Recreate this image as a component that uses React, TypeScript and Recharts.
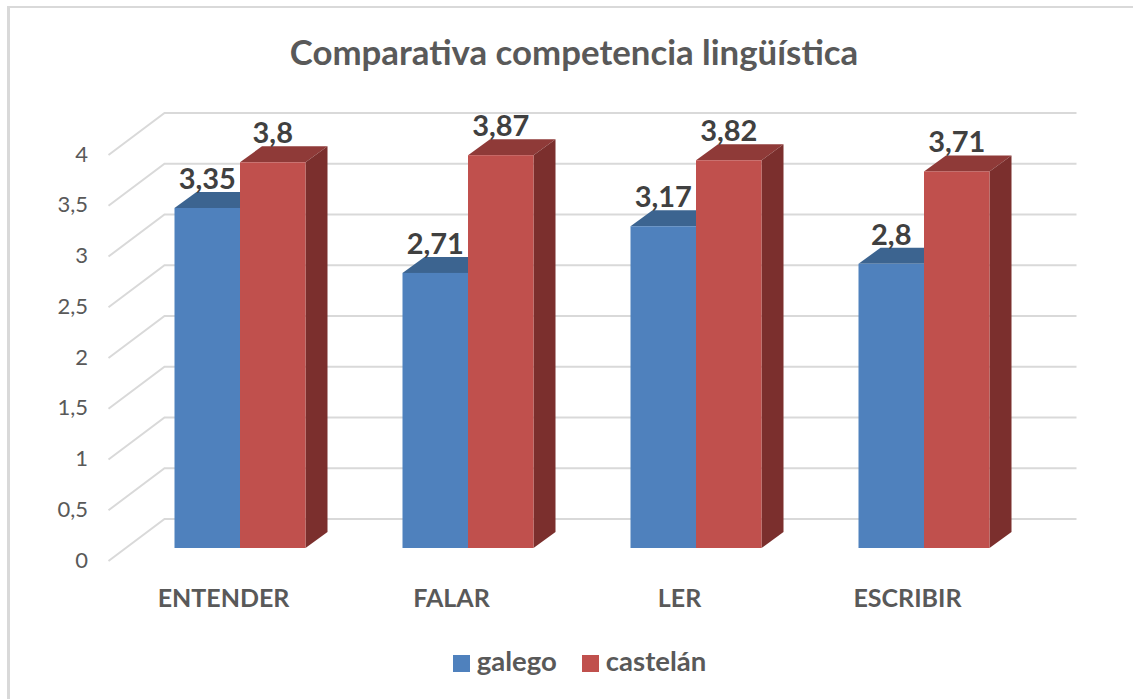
import React from 'react'
import { Bar, BarChart, CartesianGrid, LabelList, Legend, XAxis, YAxis } from 'recharts'

const categories = ['ENTENDER', 'FALAR', 'LER', 'ESCRIBIR']
const galego = [3.35, 2.71, 3.17, 2.8]
const castelan = [3.8, 3.87, 3.82, 3.71]
const yTicks = [0, 0.5, 1, 1.5, 2, 2.5, 3, 3.5, 4]

const data = categories.map((name, i) => ({ name, galego: galego[i], castelan: castelan[i] }))

const FONT = 'Lato, sans-serif'
const DEPTH_X = 22
const DEPTH_Y = 16

const comma = (v: number) => String(v).replace('.', ',')

// 3D look: front face plus top and side faces
const Bar3D = (colors: { top: string; side: string }) => (props: any) => {
    const { x, y, width, height, fill } = props
    const r = x + width
    const b = y + height
    return (
        <g>
            <polygon points={`${x},${y} ${x + DEPTH_X},${y - DEPTH_Y} ${r + DEPTH_X},${y - DEPTH_Y} ${r},${y}`} fill={colors.top} />
            <polygon points={`${r},${y} ${r + DEPTH_X},${y - DEPTH_Y} ${r + DEPTH_X},${b - DEPTH_Y} ${r},${b}`} fill={colors.side} />
            <rect x={x} y={y} width={width} height={height} fill={fill} />
        </g>
    )
}

// wall line: goes up the side wall, then along the back wall
const GridLine = (props: any) => {
    const { x1, x2, y1 } = props
    return (
        <polyline
            key={`grid-${y1}`}
            points={`${x1 - 17},${y1 + 13} ${x1 + 39},${y1 - 29} ${x2 + 39},${y1 - 29}`}
            fill="none"
            stroke="#D9D9D9"
            strokeWidth={2}
        />
    )
}

const YTick = (props: any) => (
    <text x={88} y={props.y + 11} textAnchor="end" dominantBaseline="central" fontSize={22} fontFamily={FONT} fill="#595959">
        {comma(props.payload.value)}
    </text>
)

const XTick = (props: any) => (
    <text x={props.x - 16} y={597} textAnchor="middle" dominantBaseline="central" fontSize={25} fontWeight={700} fontFamily={FONT} fill="#595959">
        {props.payload.value}
    </text>
)

const App = () => {
    return (
        <div style={{ position: 'absolute', left: 0, top: 0, width: 1133, height: 699, background: '#fff', overflow: 'hidden' }}>
            <div style={{ position: 'absolute', left: 7, top: 6, right: -5, bottom: -5, borderLeft: '3px solid #D9D9D9', borderTop: '2px solid #D9D9D9' }} />
            <BarChart
                width={1133}
                height={699}
                data={data}
                barSize={65.5}
                barGap={0}
                margin={{ top: 142, right: 95.5, bottom: 68, left: 45.5 }}
                style={{ position: 'absolute', left: 0, top: 0 }}
            >
                <text x={574} y={51} textAnchor="middle" dominantBaseline="central" fontSize={34.8} fontWeight={700} fontFamily={FONT} fill="#595959">
                    Comparativa competencia lingüística
                </text>
                <CartesianGrid vertical={false} horizontal={GridLine} />
                <XAxis dataKey="name" height={50} axisLine={false} tickLine={false} tick={XTick} interval={0} />
                <YAxis width={80} domain={[0, 4]} ticks={yTicks} axisLine={false} tickLine={false} tick={YTick} />
                <Bar dataKey="galego" name="galego" fill="#4F81BD" isAnimationActive={false} shape={Bar3D({ top: '#3C6490', side: '#3A5F8C' })}>
                    <LabelList dataKey="galego" position="top" offset={19} formatter={comma} fontSize={29} fontWeight={700} fontFamily={FONT} fill="#404040" />
                </Bar>
                <Bar dataKey="castelan" name="castelán" fill="#C0504D" isAnimationActive={false} shape={Bar3D({ top: '#8F3A38', side: '#7B2F2D' })}>
                    <LabelList dataKey="castelan" position="top" offset={19} formatter={comma} fontSize={29} fontWeight={700} fontFamily={FONT} fill="#404040" />
                </Bar>
                <Legend
                    iconType="square"
                    iconSize={17}
                    itemSorter={null}
                    wrapperStyle={{ position: 'absolute', left: 432, top: 644, width: 320, bottom: 'auto', textAlign: 'left', fontFamily: FONT, fontSize: 27.5, fontWeight: 700, color: '#595959' }}
                    formatter={(value: string) => <span style={{ color: '#595959', marginLeft: 3, marginRight: 15 }}>{value}</span>}
                />
            </BarChart>
        </div>
    )
}

export default App
